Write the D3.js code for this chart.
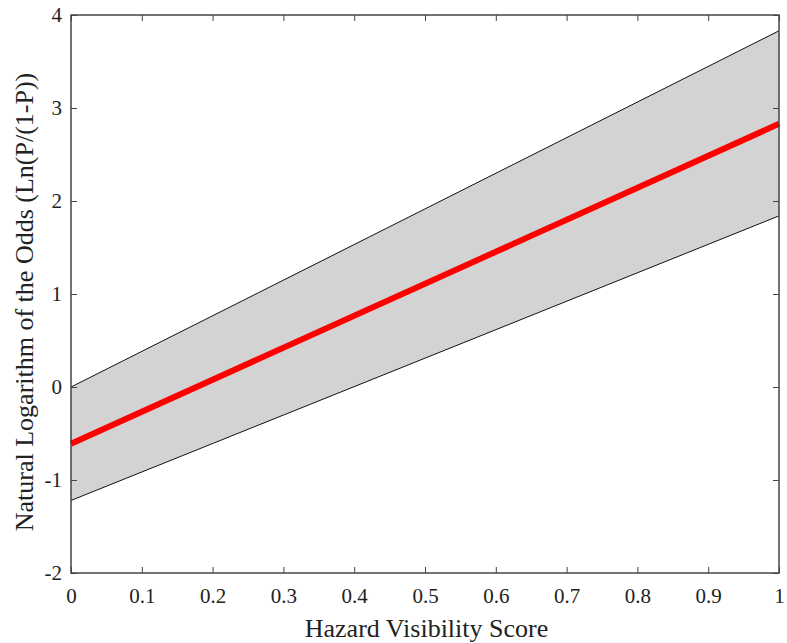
<!DOCTYPE html>
<html><head><meta charset="utf-8">
<script src="https://cdn.jsdelivr.net/npm/d3@7"></script>
<style>body{margin:0;background:#fff}</style>
</head><body>
<svg id="c" width="787" height="643"></svg>
<script>
const xEnds = [0, 1];
const fitLine = [-0.61, 2.83];
const upperBound = [0.0, 3.83];
const lowerBound = [-1.22, 1.84];
const xTicks = [0,0.1,0.2,0.3,0.4,0.5,0.6,0.7,0.8,0.9,1];
const yTicks = [-2,-1,0,1,2,3,4];

const svg = d3.select("#c");
const L=71, R=779, T=15, B=573;
const x = d3.scaleLinear().domain([0,1]).range([L,R]);
const y = d3.scaleLinear().domain([-2,4]).range([B,T]);
const font = "'Liberation Serif','Times New Roman',serif";
const fmt = d => String(d);

const data = xEnds.map((v,i)=>({x:v, f:fitLine[i], u:upperBound[i], l:lowerBound[i]}));
svg.append("path").datum(data)
  .attr("d", d3.area().x(d=>x(d.x)).y0(d=>y(d.l)).y1(d=>y(d.u)))
  .attr("fill","#d3d3d3");
svg.append("path").datum(data).attr("d", d3.line().x(d=>x(d.x)).y(d=>y(d.u)))
  .attr("stroke","#111").attr("stroke-width",1).attr("fill","none");
svg.append("path").datum(data).attr("d", d3.line().x(d=>x(d.x)).y(d=>y(d.l)))
  .attr("stroke","#111").attr("stroke-width",1).attr("fill","none");
svg.append("path").datum(data).attr("d", d3.line().x(d=>x(d.x)).y(d=>y(d.f)))
  .attr("stroke","#ff0000").attr("stroke-width",6).attr("fill","none");

const ax = "#444";
function styleAxis(g){ g.select(".domain").remove(); g.selectAll("line").attr("stroke",ax); g.selectAll("text").attr("font-family",font).attr("font-size",21).attr("fill","#222"); }
svg.append("g").attr("transform",`translate(0,${B})`)
  .call(d3.axisBottom(x).tickValues(xTicks).tickFormat(fmt).tickSizeInner(-6).tickPadding(15))
  .call(styleAxis);
svg.append("g").attr("transform",`translate(0,${T})`)
  .call(d3.axisTop(x).tickValues(xTicks).tickSizeInner(-6).tickFormat(""))
  .call(styleAxis);
svg.append("g").attr("transform",`translate(${L},0)`)
  .call(d3.axisLeft(y).tickValues(yTicks).tickFormat(fmt).tickSizeInner(-6).tickPadding(9))
  .call(styleAxis);
svg.append("g").attr("transform",`translate(${R},0)`)
  .call(d3.axisRight(y).tickValues(yTicks).tickSizeInner(-6).tickFormat(""))
  .call(styleAxis);
svg.append("rect").attr("x",L).attr("y",T).attr("width",R-L).attr("height",B-T)
  .attr("fill","none").attr("stroke",ax).attr("stroke-width",1.5);

svg.append("text").attr("x",(305+548)/2).attr("y",637).attr("text-anchor","middle")
  .attr("font-family",font).attr("font-size",26).attr("fill","#222").text("Hazard Visibility Score");
svg.append("text").attr("transform",`translate(33,302) rotate(-90)`).attr("text-anchor","middle")
  .attr("font-family",font).attr("font-size",26).attr("fill","#222").text("Natural Logarithm of the Odds (Ln(P/(1-P))");
</script>
</body></html>
